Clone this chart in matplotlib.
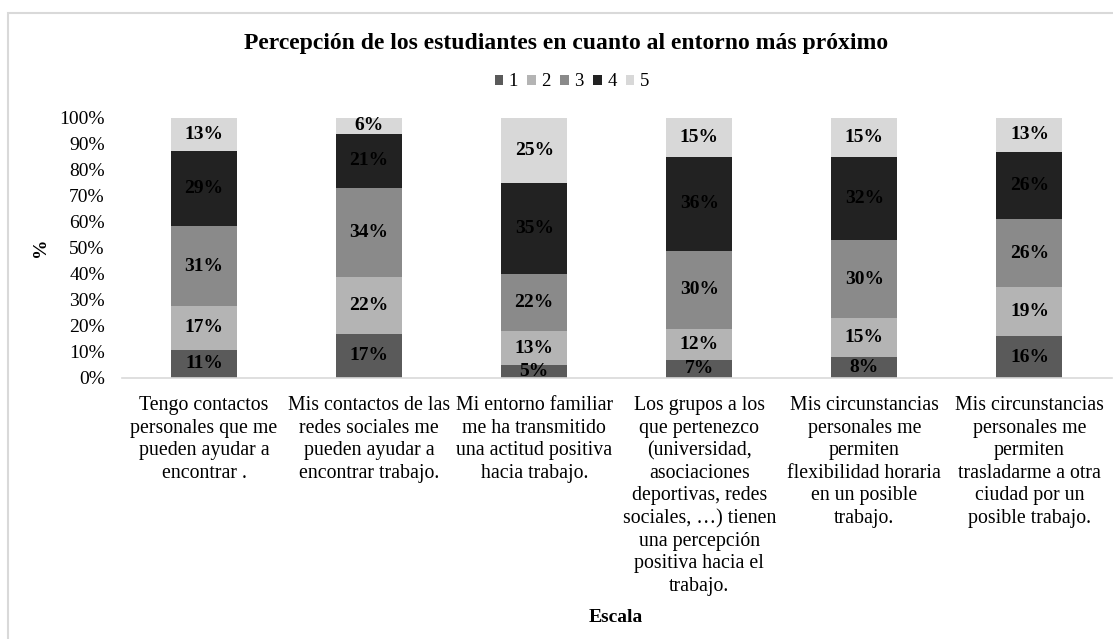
import matplotlib as mpl
import matplotlib.pyplot as plt
from matplotlib.patches import Patch, Rectangle

# ── Data ──────────────────────────────────────────────────────────────────
categories = [
    "Tengo contactos\npersonales que me\npueden ayudar a\nencontrar .",
    "Mis contactos de las\nredes sociales me\npueden ayudar a\nencontrar trabajo.",
    "Mi entorno familiar\nme ha transmitido\nuna actitud positiva\nhacia trabajo.",
    "Los grupos a los\nque pertenezco\n(universidad,\nasociaciones\ndeportivas, redes\nsociales, …) tienen\nuna percepción\npositiva hacia el\ntrabajo.",
    "Mis circunstancias\npersonales me\npermiten\nflexibilidad horaria\nen un posible\ntrabajo.",
    "Mis circunstancias\npersonales me\npermiten\ntrasladarme a otra\nciudad por un\nposible trabajo.",
]
series_names = ["1", "2", "3", "4", "5"]
s1 = [11, 17, 5, 7, 8, 16]
s2 = [17, 22, 13, 12, 15, 19]
s3 = [31, 34, 22, 30, 30, 26]
s4 = [29, 21, 35, 36, 32, 26]
s5 = [13, 6, 25, 15, 15, 13]
series = [s1, s2, s3, s4, s5]
colors = ["#5a5a5a", "#b4b4b4", "#8a8a8a", "#222222", "#d8d8d8"]

# ── Style ─────────────────────────────────────────────────────────────────
mpl.rcParams.update({
    "font.family": ["Liberation Serif", "DejaVu Serif"],
    "font.size": 14,
})

W, H = 1113, 639
fig = plt.figure(figsize=(W / 100, H / 100), dpi=100)
fig.patch.set_facecolor("white")
ax = fig.add_axes([121.5 / W, 1 - 378 / H, 990.5 / W, 260 / H])

# 100% stacked
x = list(range(len(categories)))
totals = [sum(s[i] for s in series) for i in x]
bottom = [0.0] * len(x)
for name, vals, col in zip(series_names, series, colors):
    frac = [v / t * 100 for v, t in zip(vals, totals)]
    ax.bar(x, frac, width=0.4, bottom=bottom, color=col, label=name, zorder=2)
    for i, (f, v) in enumerate(zip(frac, vals)):
        ax.text(i, bottom[i] + f / 2, f"{v}%", ha="center", va="center",
                fontsize=14, fontweight="bold", color="black", zorder=3)
    bottom = [b + f for b, f in zip(bottom, frac)]

ax.set_xlim(-0.5, len(categories) - 0.5)
ax.set_ylim(0, 100)
ax.set_yticks(range(0, 101, 10))
ax.set_yticklabels([f"{t}%" for t in range(0, 101, 10)])
ax.set_xticks(x)
ax.set_xticklabels(categories, fontsize=14.3, linespacing=1.25)
ax.tick_params(axis="both", length=0)
ax.tick_params(axis="y", pad=12)
ax.tick_params(axis="x", pad=13)
for sp in ["top", "right", "left"]:
    ax.spines[sp].set_visible(False)
ax.spines["bottom"].set_color("#d9d9d9")
ax.spines["bottom"].set_linewidth(1.2)

# ── Text ──────────────────────────────────────────────────────────────────
fig.text(566 / W, 1 - 44 / H,
         "Percepción de los estudiantes en cuanto al entorno más próximo",
         ha="center", va="center", fontsize=17, fontweight="bold")
fig.text(41 / W, 1 - 247 / H, "%", rotation=90, ha="center", va="center",
         fontsize=14, fontweight="bold")
fig.text(616 / W, 1 - 617 / H, "Escala", ha="center", va="center",
         fontsize=14, fontweight="bold")

handles = [Patch(facecolor=c, label=n) for n, c in zip(series_names, colors)]
fig.legend(handles=handles, loc="center", bbox_to_anchor=(572 / W, 1 - 82 / H),
           ncol=5, frameon=False, fontsize=13.5, handlelength=0.45,
           handleheight=0.45, handletextpad=0.3, columnspacing=0.5)

# outer chart border (partly cropped)
fig.patches.append(Rectangle((8 / W, -0.1), 1.2, 1.1 - 13 / H,
                             transform=fig.transFigure, fill=False,
                             edgecolor="#d9d9d9", linewidth=1.5))

fig.savefig("out.png", dpi=100, facecolor="white")
